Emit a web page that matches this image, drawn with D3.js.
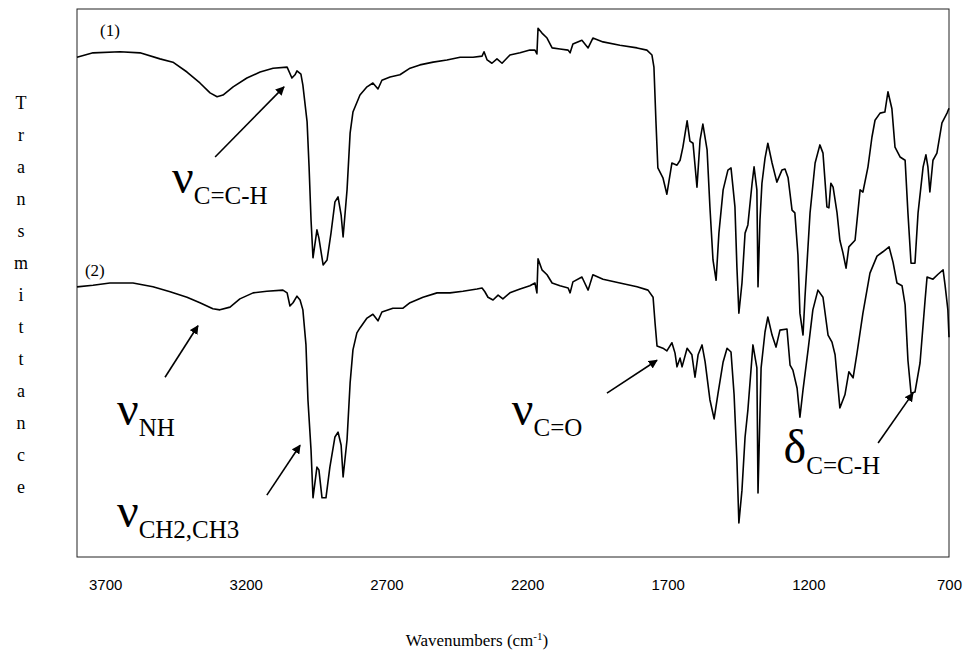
<!DOCTYPE html>
<html>
<head>
<meta charset="utf-8">
<script src="https://cdn.jsdelivr.net/npm/d3@7"></script>
<style>
  html, body { margin: 0; padding: 0; background: #fff; }
  svg { display: block; }
  .serif { font-family: 'Liberation Serif', 'Times New Roman', serif; }
  .sans { font-family: 'Liberation Sans', Arial, sans-serif; }
</style>
</head>
<body>
<svg id="chart" width="969" height="655"></svg>
<script>
// ---------- DATA ----------
// x tick values (wavenumbers, cm-1)
const xTicks = [3700, 3200, 2700, 2200, 1700, 1200, 700];
const yLabelText = "Transmittance";
const xLabelText = "Wavenumbers (cm";
const xLabelSup = "-1";

// spectrum (1): [wavenumber, transmittance (arbitrary %)]
const spectrum1 = [
  [3800,91.2],[3743,92.0],[3647,92.2],[3576,92.0],[3505,90.9],[3459,90.3],[3409,88.5],[3363,86.5],
  [3327,84.7],[3302,84.0],[3281,84.3],[3245,85.8],[3196,87.4],[3149,88.5],[3103,89.2],[3053,89.4],
  [3036,87.4],[3025,88.0],[3018,88.7],[3004,88.1],[2997,86.1],[2982,79.4],[2975,71.2],[2968,61.5],
  [2961,54.6],[2947,59.7],[2940,58.2],[2925,53.3],[2911,54.2],[2897,59.1],[2883,64.8],[2872,65.7],
  [2861,62.4],[2854,58.4],[2840,67.0],[2829,77.4],[2819,81.2],[2794,84.3],[2769,85.8],[2748,86.5],
  [2730,85.4],[2716,87.0],[2687,87.6],[2652,88.0],[2616,89.2],[2581,89.8],[2534,90.3],[2485,90.7],
  [2438,91.2],[2392,91.2],[2360,91.4],[2353,92.2],[2342,90.7],[2325,90.1],[2307,90.9],[2289,90.1],
  [2261,91.6],[2225,92.0],[2190,92.5],[2172,92.5],[2165,91.8],[2161,96.5],[2147,95.6],[2129,94.7],
  [2111,92.9],[2083,92.7],[2054,92.5],[2047,92.0],[2037,93.6],[2005,94.3],[1983,92.9],[1966,94.7],
  [1930,94.0],[1870,93.4],[1809,92.9],[1774,92.5],[1756,91.6],[1749,89.4],[1742,79.7],[1735,71.0],
  [1717,69.2],[1703,66.2],[1685,71.9],[1667,71.5],[1656,72.4],[1646,74.8],[1631,79.6],[1621,75.9],
  [1610,75.5],[1596,67.5],[1585,76.1],[1575,79.0],[1560,74.3],[1550,63.9],[1539,54.2],[1528,50.5],
  [1518,59.1],[1503,67.0],[1486,70.6],[1475,71.0],[1468,67.5],[1461,63.9],[1454,52.9],[1447,44.5],
  [1436,50.0],[1425,59.1],[1415,60.6],[1400,68.2],[1393,71.2],[1383,67.0],[1379,49.3],[1372,61.5],
  [1365,68.2],[1354,72.8],[1344,75.5],[1329,71.9],[1312,68.4],[1294,70.6],[1283,70.8],[1272,69.2],
  [1258,63.3],[1248,62.8],[1237,55.1],[1230,44.5],[1219,40.5],[1212,47.4],[1194,62.8],[1176,71.9],
  [1159,75.2],[1148,73.7],[1134,63.9],[1127,63.7],[1120,68.2],[1112,67.5],[1098,62.8],[1088,57.8],
  [1077,55.5],[1066,52.7],[1056,56.6],[1034,57.8],[1016,67.0],[1006,66.6],[988,71.2],[974,76.6],
  [963,79.7],[945,81.0],[928,81.2],[917,84.9],[903,81.8],[892,74.8],[874,73.0],[856,72.4],
  [846,62.8],[835,53.6],[821,53.6],[810,62.8],[792,71.2],[782,73.4],[775,71.2],[768,66.6],
  [757,72.4],[743,73.7],[725,79.2],[707,81.0],[700,81.9]
];

// spectrum (2)
const spectrum2 = [
  [3800,49.3],[3743,49.6],[3683,50.0],[3601,50.0],[3530,49.3],[3469,48.4],[3409,47.4],[3363,46.4],
  [3317,45.3],[3292,45.1],[3256,45.6],[3221,47.1],[3174,48.2],[3125,48.5],[3068,48.7],[3053,48.2],
  [3043,45.8],[3032,46.4],[3018,47.6],[3007,46.9],[2997,45.1],[2986,38.7],[2979,28.7],[2968,19.5],
  [2961,10.8],[2947,16.4],[2940,15.9],[2929,10.8],[2915,10.8],[2901,16.4],[2883,21.9],[2872,22.8],
  [2861,20.4],[2854,14.6],[2840,21.4],[2829,31.8],[2819,37.8],[2805,40.9],[2794,41.8],[2769,43.6],
  [2748,44.3],[2730,43.1],[2716,44.7],[2677,45.4],[2641,45.4],[2616,46.4],[2570,47.4],[2520,48.2],
  [2474,48.2],[2428,48.5],[2378,48.9],[2360,49.1],[2350,48.4],[2339,47.4],[2321,46.9],[2303,47.8],
  [2286,47.1],[2261,48.2],[2225,48.9],[2190,49.5],[2172,50.0],[2165,48.2],[2161,54.4],[2147,52.4],
  [2129,51.5],[2111,50.0],[2083,49.5],[2054,49.1],[2047,48.2],[2037,50.2],[2005,51.1],[1983,48.7],
  [1966,51.5],[1930,50.7],[1870,50.0],[1809,49.3],[1770,48.7],[1752,47.4],[1745,42.7],[1738,38.5],
  [1717,38.1],[1703,37.6],[1685,39.1],[1674,37.2],[1667,34.7],[1656,36.3],[1649,34.7],[1631,38.1],
  [1614,36.9],[1603,32.8],[1592,36.9],[1578,38.7],[1567,35.6],[1550,28.7],[1535,25.2],[1521,29.9],
  [1503,35.6],[1489,38.1],[1475,37.4],[1464,29.6],[1454,17.7],[1447,6.2],[1436,12.2],[1425,21.9],
  [1415,26.8],[1397,38.7],[1383,34.5],[1379,11.7],[1368,34.5],[1354,41.1],[1344,43.8],[1329,40.5],
  [1315,38.3],[1301,41.4],[1276,41.6],[1265,35.0],[1255,34.1],[1240,30.8],[1230,25.5],[1219,30.5],
  [1201,37.8],[1184,45.1],[1166,48.7],[1148,47.4],[1130,40.5],[1116,39.2],[1105,36.9],[1088,27.2],
  [1070,29.6],[1056,33.8],[1041,32.7],[1027,37.2],[1006,44.5],[981,51.8],[956,54.9],[935,55.7],
  [913,56.6],[899,53.8],[885,50.0],[867,49.5],[856,46.0],[846,35.9],[835,29.9],[821,30.1],
  [803,35.4],[785,46.9],[778,51.1],[757,50.7],[739,51.6],[721,52.4],[714,49.6],[704,45.1],[700,40.1]
];

// trace labels: [text, wavenumber, transmittance]
const traceLabels = [["(1)", 3718, 95.1], ["(2)", 3772, 51.3]];

// band annotations: symbol, subscript, label position, arrow from, arrow to (data coords)
const bandSymbols = ["\u03BD", "\u03BD", "\u03BD", "\u03BD", "\u03B4"];
const bandSubs = ["C=C-H", "NH", "CH2,CH3", "C=O", "C=C-H"];
const bandLabelPos = [[3462, 66.4], [3658, 24.1], [3658, 5.5], [2254, 24.1], [1288, 17.2]];
const arrowFrom = [[3309, 73.0], [3487, 32.8], [3125, 11.3], [1916, 29.9], [952, 20.8]];
const arrowTo = [[3064, 85.8], [3370, 42.2], [3007, 20.4], [1738, 35.9], [828, 29.9]];

// ---------- DRAW ----------
const svg = d3.select("#chart");
const plot = { left: 77, top: 9, right: 949, bottom: 557 };

const x = d3.scaleLinear().domain([3800, 700]).range([plot.left, plot.right]);
const y = d3.scaleLinear().domain([0, 100]).range([plot.bottom, plot.top]);

svg.append("defs").append("marker")
  .attr("id", "arrow")
  .attr("viewBox", "0 0 10 10")
  .attr("refX", 9).attr("refY", 5)
  .attr("markerWidth", 9).attr("markerHeight", 9)
  .attr("markerUnits", "userSpaceOnUse")
  .attr("orient", "auto")
  .append("path").attr("d", "M0,0 L10,5 L0,10 z").attr("fill", "#000");

// frame
svg.append("rect")
  .attr("x", plot.left).attr("y", plot.top)
  .attr("width", plot.right - plot.left).attr("height", plot.bottom - plot.top)
  .attr("fill", "none").attr("stroke", "#222").attr("stroke-width", 1);

// x axis labels
const xAxis = d3.axisBottom(x).tickValues(xTicks).tickSize(0).tickPadding(0).tickFormat(d3.format("d"));
const gx = svg.append("g").attr("transform", `translate(0,${plot.bottom + 22})`).call(xAxis);
gx.attr("font-family", null).attr("font-size", null);
gx.select(".domain").remove();
gx.selectAll("text")
  .attr("class", "sans")
  .style("font-family", "'Liberation Sans', Arial, sans-serif")
  .style("font-size", "15px").attr("fill", "#000").attr("dy", "0.71em");

// lines
const line = d3.line().x(d => x(d[0])).y(d => y(d[1])).curve(d3.curveLinear);
[spectrum1, spectrum2].forEach(s => {
  svg.append("path").datum(s)
    .attr("d", line)
    .attr("fill", "none").attr("stroke", "#000")
    .attr("stroke-width", 1.6).attr("stroke-linejoin", "round");
});

// trace labels
svg.selectAll(".tl").data(traceLabels).enter().append("text")
  .attr("class", "serif")
  .attr("x", d => x(d[1])).attr("y", d => y(d[2]))
  .style("font-size", "17px").text(d => d[0]);

// arrows + band labels
bandSubs.forEach((s, i) => {
  svg.append("line")
    .attr("x1", x(arrowFrom[i][0])).attr("y1", y(arrowFrom[i][1]))
    .attr("x2", x(arrowTo[i][0])).attr("y2", y(arrowTo[i][1]))
    .attr("stroke", "#000").attr("stroke-width", 1.6)
    .attr("marker-end", "url(#arrow)");
  const t = svg.append("text")
    .attr("class", "serif")
    .attr("x", x(bandLabelPos[i][0])).attr("y", y(bandLabelPos[i][1]));
  t.append("tspan").style("font-size", "48px").text(bandSymbols[i]);
  t.append("tspan").style("font-size", "25px").attr("dy", 11).text(s);
});

// y label (stacked letters)
const letters = yLabelText.split("");
svg.selectAll(".yl").data(letters).enter().append("text")
  .attr("class", "serif")
  .attr("x", 21).attr("y", (d, i) => 109 + i * 32)
  .attr("text-anchor", "middle")
  .style("font-size", "18px").text(d => d);

// x label
const xl = svg.append("text")
  .attr("class", "serif")
  .attr("x", 477).attr("y", 646).attr("text-anchor", "middle")
  .style("font-size", "17px");
xl.append("tspan").text(xLabelText);
xl.append("tspan").style("font-size", "11px").attr("dy", -6).text(xLabelSup);
xl.append("tspan").attr("dy", 6).text(")");
</script>
</body>
</html>
